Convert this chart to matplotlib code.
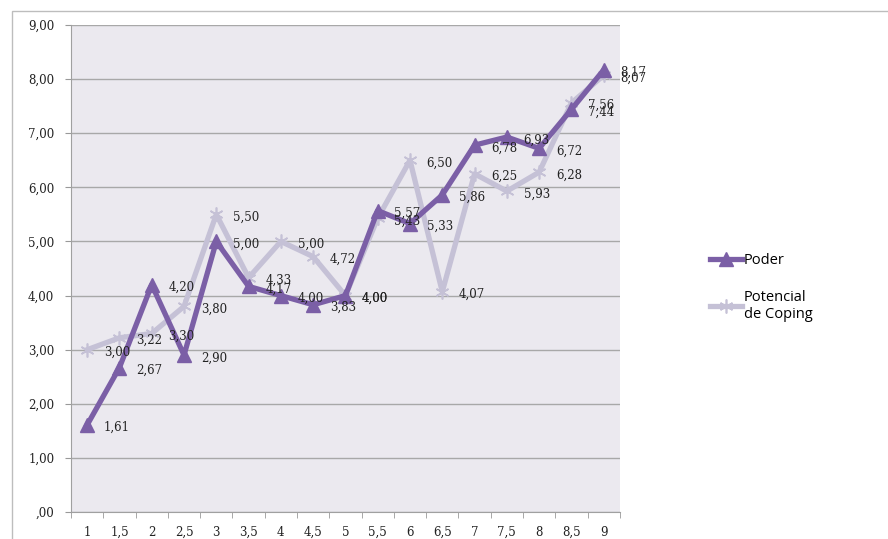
import numpy as np
import matplotlib
matplotlib.use("Agg")
import matplotlib.pyplot as plt
from matplotlib.patches import Rectangle

categories = ["1", "1,5", "2", "2,5", "3", "3,5", "4", "4,5", "5",
              "5,5", "6", "6,5", "7", "7,5", "8", "8,5", "9"]
poder = [1.61, 2.67, 4.20, 2.90, 5.00, 4.17, 4.00, 3.83, 4.00,
         5.57, 5.33, 5.86, 6.78, 6.93, 6.72, 7.44, 8.17]
coping = [3.00, 3.22, 3.30, 3.80, 5.50, 4.33, 5.00, 4.72, 4.00,
          5.43, 6.50, 4.07, 6.25, 5.93, 6.28, 7.56, 8.07]
yticks = [0, 1, 2, 3, 4, 5, 6, 7, 8, 9]

c_poder = "#7b5fa6"
c_coping = "#c5c1d6"


def fmt(v):
    return f"{v:.2f}".replace(".", ",")


fig = plt.figure(figsize=(8.88, 5.39), dpi=100)
ax = fig.add_axes([0.080, 0.050, 0.618, 0.9036])
ax.set_facecolor("#ebe9ef")

x = np.arange(len(categories))
ax.plot(x, coping, color=c_coping, lw=3.8, marker=(6, 2, 0), ms=10,
        mec=c_coping, mew=1.2, label="Potencial\nde Coping", zorder=3)
ax.plot(x, poder, color=c_poder, lw=3.8, marker="^", ms=10,
        mec=c_poder, label="Poder", zorder=4)

# etiquetas de datos a la derecha de cada punto
for xi, v in zip(x, coping):
    ax.annotate(fmt(v), (xi, v), xytext=(12, -2), textcoords="offset points",
                fontsize=8.5, family="DejaVu Serif", color="#222222",
                va="center", zorder=5)
for xi, v in zip(x, poder):
    ax.annotate(fmt(v), (xi, v), xytext=(12, -2), textcoords="offset points",
                fontsize=8.5, family="DejaVu Serif", color="#222222",
                va="center", zorder=5)

ax.set_xlim(-0.5, len(categories) - 0.5)
ax.set_ylim(0, 9)
ax.set_yticks(yticks)
ax.set_yticklabels([",00" if t == 0 else fmt(t) for t in yticks],
                   family="DejaVu Serif", fontsize=8.5, color="#222222")
ax.set_xticks(x)
ax.set_xticklabels(categories, family="DejaVu Serif", fontsize=8.5, color="#222222")
ax.set_xticks(np.arange(-0.5, len(categories), 1), minor=True)
ax.tick_params(axis="x", which="major", length=0, pad=10)
ax.tick_params(axis="x", which="minor", length=4, color="#999999")
ax.tick_params(axis="y", length=4, color="#999999", pad=8)
ax.yaxis.grid(True, color="#a8a8a8", lw=1)
ax.set_axisbelow(True)
for s in ["top", "right"]:
    ax.spines[s].set_visible(False)
for s in ["left", "bottom"]:
    ax.spines[s].set_color("#a0a0a0")

handles, labels = ax.get_legend_handles_labels()
fig.legend(handles[::-1], labels[::-1], loc="upper left",
           bbox_to_anchor=(0.785, 0.555), frameon=False, handlelength=2.2,
           handletextpad=0.1, labelspacing=1.5,
           prop={"family": "Open Sans", "size": 10.5})

# marco exterior del gráfico
fig.patches.append(Rectangle((0.0135, -0.01), 1.0, 0.99, transform=fig.transFigure,
                             fill=False, ec="#bdbdbd", lw=1))

fig.savefig("out.png", dpi=100)
